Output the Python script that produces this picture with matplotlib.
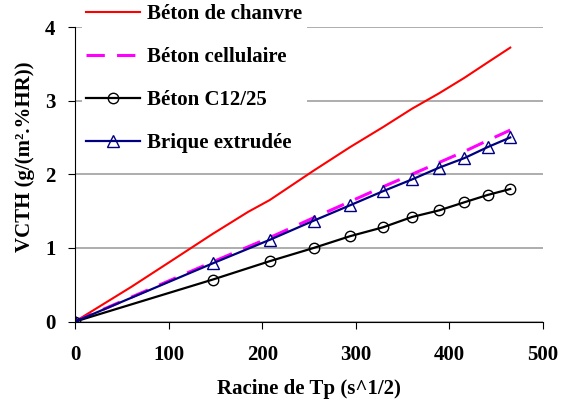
import matplotlib.pyplot as plt

# racine du temps (s^1/2), points toutes les 6 h
x_pts = [0, 147, 208, 255, 294, 329, 360, 389, 416, 441, 465]

chanvre_x = [0, 60, 100, 147, 185, 208, 255, 294, 329, 360, 389, 416, 441, 465]
chanvre_y = [0, 0.47, 0.80, 1.19, 1.49, 1.65, 2.05, 2.37, 2.64, 2.89, 3.10, 3.31, 3.52, 3.72]
cellulaire_y = [0, 0.81, 1.14, 1.41, 1.63, 1.83, 2.00, 2.16, 2.31, 2.46, 2.60]
c1225_y = [0, 0.57, 0.82, 1.00, 1.16, 1.28, 1.42, 1.51, 1.62, 1.72, 1.80]
brique_y = [0, 0.79, 1.11, 1.37, 1.58, 1.77, 1.93, 2.09, 2.22, 2.37, 2.50]

plt.rcParams['font.family'] = ['Liberation Serif', 'DejaVu Serif']
plt.rcParams['font.weight'] = 'bold'

fig = plt.figure(figsize=(5.68, 4.03), dpi=100)
ax = fig.add_axes([0.132, 0.202, 0.824, 0.731])

ax.plot(chanvre_x, chanvre_y, color='red', lw=1.5, label='Béton de chanvre')
ax.plot(x_pts, cellulaire_y, color='magenta', lw=2.2, dashes=(6, 4), label='Béton cellulaire')
ax.plot(x_pts, c1225_y, color='black', lw=1.6, marker='o', ms=7.5, mfc='none', mec='black',
        mew=1.0, label='Béton C12/25')
ax.plot(x_pts, brique_y, color='#000080', lw=1.6, marker='^', ms=8.5, mfc='none', mec='#000080',
        mew=1.0, label='Brique extrudée')

ax.set_xlim(0, 500)
ax.set_ylim(0, 4)
ax.set_xticks([0, 100, 200, 300, 400, 500])
ax.set_yticks([0, 1, 2, 3, 4])
ax.yaxis.grid(True, color='#a0a0a0', lw=1.2)
ax.set_axisbelow(True)
for s in ['top', 'right']:
    ax.spines[s].set_visible(False)
ax.tick_params(labelsize=15, length=5, direction='out')
ax.tick_params(axis='x', pad=12)
ax.tick_params(axis='y', pad=9)
for lab in ax.get_xticklabels() + ax.get_yticklabels():
    lab.set_fontweight('bold')

ax.set_xlabel('Racine de Tp (s^1/2)', fontsize=15, fontweight='bold')
ax.set_ylabel('VCTH (g/(m².%HR))', fontsize=15, fontweight='bold')
ax.xaxis.set_label_coords(0.5, -0.195)
ax.yaxis.set_label_coords(-0.085, 0.56)

leg = fig.legend(loc='upper left', bbox_to_anchor=(0.144, 1.0), fontsize=15,
                 handlelength=2.6, labelspacing=1.1, borderpad=0.2, handletextpad=0.35,
                 borderaxespad=0, facecolor='white', edgecolor='none', framealpha=1,
                 fancybox=False)
leg.set_zorder(5)
for t in leg.get_texts():
    t.set_fontweight('bold')

fig.savefig('out.png', dpi=100)
